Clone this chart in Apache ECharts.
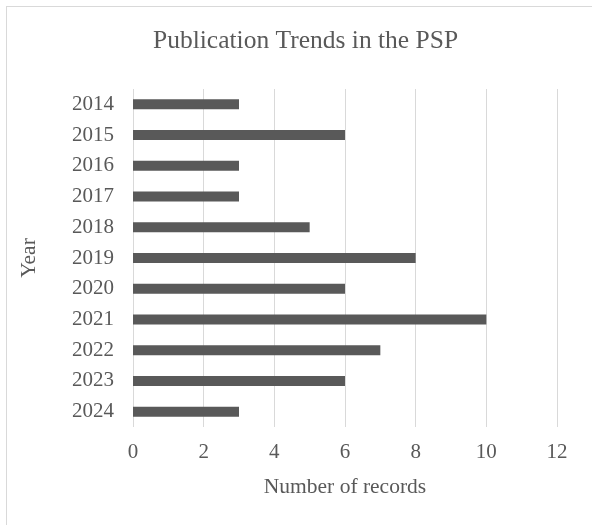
<!DOCTYPE html>
<html>
<head>
<meta charset="utf-8">
<script src="https://cdn.jsdelivr.net/npm/echarts@6/dist/echarts.min.js"></script>
<style>
  html, body { margin: 0; padding: 0; background: #fff; }
  #chart { width: 592px; height: 525px; }
  .frame { position: absolute; left: 6px; top: 6px; width: 592px; height: 530px; border: 1px solid #d9d9d9; box-sizing: border-box; pointer-events: none; }
</style>
</head>
<body>
<div id="chart"></div>
<div class="frame"></div>
<script>
const years = ['2014', '2015', '2016', '2017', '2018', '2019', '2020', '2021', '2022', '2023', '2024'];
const records = [3, 6, 3, 3, 5, 8, 6, 10, 7, 6, 3];
const xTicks = [0, 2, 4, 6, 8, 10, 12];

const chart = echarts.init(document.getElementById('chart'));
const font = 'Liberation Serif, Times New Roman, serif';
const txt = '#595959';

chart.setOption({
  animation: false,
  title: {
    text: 'Publication Trends in the PSP',
    left: 148,
    top: 23,
    textStyle: { fontFamily: font, fontSize: 25.5, fontWeight: 'normal', color: txt }
  },
  grid: { left: 133, right: 35, top: 89, bottom: 98 },
  xAxis: {
    type: 'value',
    min: xTicks[0],
    max: xTicks[xTicks.length - 1],
    interval: 2,
    name: 'Number of records',
    nameLocation: 'middle',
    nameGap: 49,
    nameTextStyle: { fontFamily: font, fontSize: 21.5, color: txt },
    axisLine: { show: false },
    axisTick: { show: false },
    axisLabel: { fontFamily: font, fontSize: 21, color: txt, margin: 15 },
    splitLine: { lineStyle: { color: '#d9d9d9', width: 1 } }
  },
  yAxis: {
    type: 'category',
    data: years,
    inverse: true,
    name: 'Year',
    nameLocation: 'middle',
    nameGap: 93,
    nameTextStyle: { fontFamily: font, fontSize: 21.5, color: txt },
    axisLine: { show: false },
    axisTick: { show: false },
    axisLabel: { fontFamily: font, fontSize: 21, color: txt, margin: 19 }
  },
  series: [{
    type: 'bar',
    data: records,
    barWidth: 10,
    itemStyle: { color: '#595959' }
  }]
});
</script>
</body>
</html>
